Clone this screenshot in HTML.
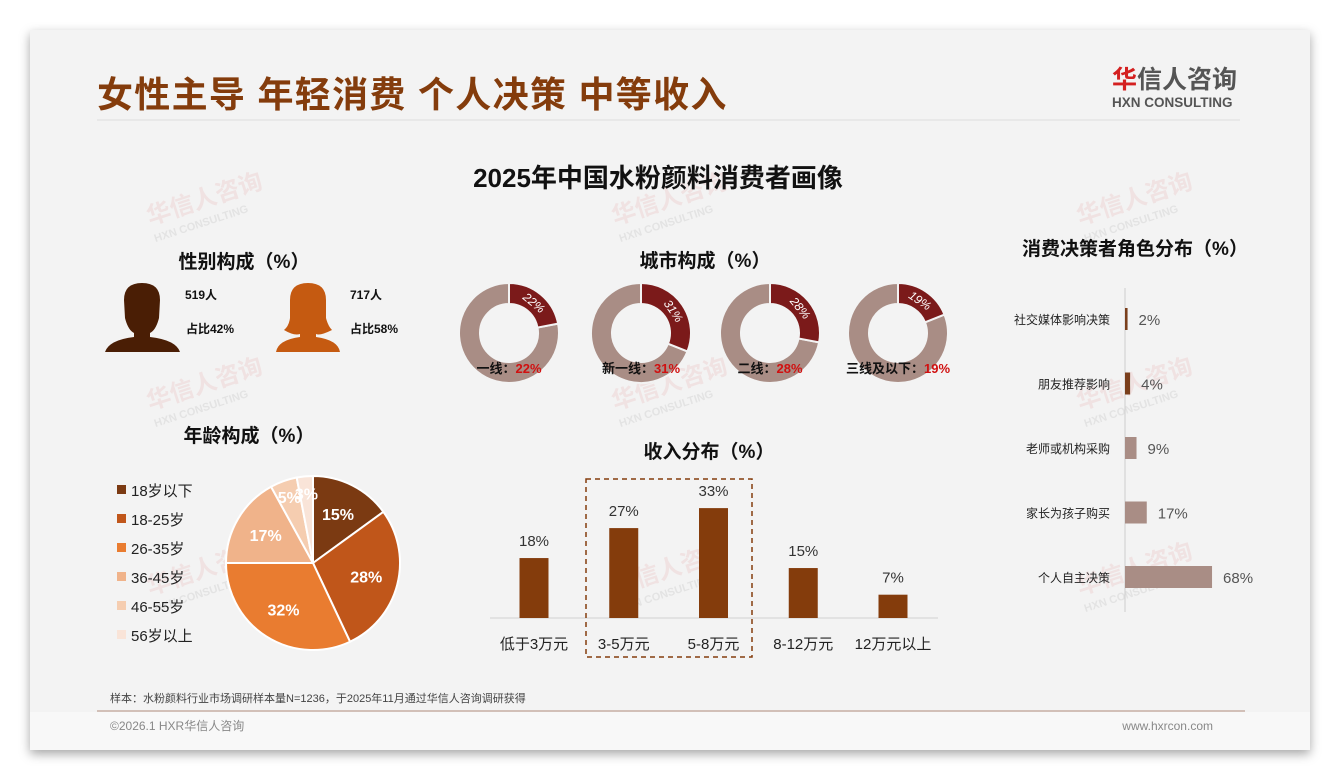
<!DOCTYPE html>
<html><head><meta charset="utf-8">
<style>
*{margin:0;padding:0;box-sizing:border-box}
body{width:1340px;height:780px;background:#fff;font-family:"Liberation Sans","Noto Sans CJK SC",sans-serif;position:relative;overflow:hidden}
#card{position:absolute;left:30px;top:30px;width:1280px;height:720px;background:#f3f3f3;box-shadow:0 4px 10px rgba(0,0,0,.35)}
.abs{position:absolute}
</style></head><body>
<div id="card"></div>
<svg class="abs" style="left:0;top:0" width="1340" height="780" font-family="Liberation Sans, Noto Sans CJK SC, sans-serif">
<rect x="30" y="712" width="1280" height="38" fill="#f8f8f8"/>
<g fill="#e8b8b8" opacity="0.28" font-weight="bold">
<g transform="translate(150,225) rotate(-18)"><text font-size="24">华信人咨询</text><text y="18" font-size="11" fill="#bbb">HXN CONSULTING</text></g>
<g transform="translate(615,225) rotate(-18)"><text font-size="24">华信人咨询</text><text y="18" font-size="11" fill="#bbb">HXN CONSULTING</text></g>
<g transform="translate(1080,225) rotate(-18)"><text font-size="24">华信人咨询</text><text y="18" font-size="11" fill="#bbb">HXN CONSULTING</text></g>
<g transform="translate(150,410) rotate(-18)"><text font-size="24">华信人咨询</text><text y="18" font-size="11" fill="#bbb">HXN CONSULTING</text></g>
<g transform="translate(615,410) rotate(-18)"><text font-size="24">华信人咨询</text><text y="18" font-size="11" fill="#bbb">HXN CONSULTING</text></g>
<g transform="translate(1080,410) rotate(-18)"><text font-size="24">华信人咨询</text><text y="18" font-size="11" fill="#bbb">HXN CONSULTING</text></g>
<g transform="translate(150,595) rotate(-18)"><text font-size="24">华信人咨询</text><text y="18" font-size="11" fill="#bbb">HXN CONSULTING</text></g>
<g transform="translate(615,595) rotate(-18)"><text font-size="24">华信人咨询</text><text y="18" font-size="11" fill="#bbb">HXN CONSULTING</text></g>
<g transform="translate(1080,595) rotate(-18)"><text font-size="24">华信人咨询</text><text y="18" font-size="11" fill="#bbb">HXN CONSULTING</text></g>
</g>
<text x="97" y="107" font-size="36" font-weight="bold" fill="#843c0c" letter-spacing="1.3">女性主导 年轻消费 个人决策 中等收入</text>
<g>
<text x="1112" y="88" font-size="25" font-weight="bold" fill="#555"><tspan fill="#d42020">华</tspan>信人咨询</text>
<text x="1112" y="107" font-size="13.5" font-weight="bold" fill="#555">HXN CONSULTING</text>
</g>
<line x1="97" y1="120" x2="1240" y2="120" stroke="#ddd" stroke-width="1"/>
<text x="658" y="187" font-size="26" font-weight="bold" text-anchor="middle" fill="#111">2025年中国水粉颜料消费者画像</text>
<text x="244" y="268" font-size="19" font-weight="bold" text-anchor="middle" fill="#111">性别构成（%）</text>
<g fill="#4a1e05">
<path d="M124,300 Q124,283 142,283 Q160,283 160,300 L159,318 Q156,330 150,333 L150,337 Q176,340 180,352 L105,352 Q109,340 134,337 L134,333 Q128,330 125,318 Z"/>
</g>
<text x="185" y="299" font-size="12" font-weight="bold" fill="#111">519人</text>
<text x="186" y="333" font-size="12" font-weight="bold" fill="#111">占比42%</text>
<g fill="#c55a11">
<path d="M290,300 Q290,283 308,283 Q326,283 326,300 L326,318 Q328,326 332,330 Q320,336 316,334 L316,337 Q338,340 340,352 L276,352 Q278,340 300,337 L300,334 Q294,336 284,330 Q289,326 290,318 Z"/>
</g>
<text x="350" y="299" font-size="12" font-weight="bold" fill="#111">717人</text>
<text x="350" y="333" font-size="12" font-weight="bold" fill="#111">占比58%</text>
<text x="705" y="267" font-size="19" font-weight="bold" text-anchor="middle" fill="#111">城市构成（%）</text>
<g id="donuts"></g>
<text x="249" y="442" font-size="19" font-weight="bold" text-anchor="middle" fill="#111">年龄构成（%）</text>
<g id="pie"></g><g id="legend"></g>
<text x="709" y="458" font-size="19" font-weight="bold" text-anchor="middle" fill="#111">收入分布（%）</text>
<g id="income"></g>
<rect x="586" y="479" width="166" height="178" fill="none" stroke="#843c0c" stroke-width="1.5" stroke-dasharray="5,4"/>
<text x="1135" y="255" font-size="19" font-weight="bold" text-anchor="middle" fill="#111">消费决策者角色分布（%）</text>
<g id="decision"></g>
<text x="110" y="702" font-size="11" fill="#444">样本：水粉颜料行业市场调研样本量N=1236，于2025年11月通过华信人咨询调研获得</text>
<line x1="97" y1="711" x2="1245" y2="711" stroke="#c8b0a5" stroke-width="1.5"/>
<text x="110" y="730" font-size="12" fill="#888">©2026.1 HXR华信人咨询</text>
<text x="1213" y="730" font-size="12" fill="#888" text-anchor="end">www.hxrcon.com</text>
</svg>
<script>
const NS="http://www.w3.org/2000/svg";
function mk(p,t,a){const e=document.createElementNS(NS,t);for(const k in a)e.setAttribute(k,a[k]);p.appendChild(e);return e;}
const cityNames=["一线","新一线","二线","三线及以下"];
const cityValues=[22,31,28,19];
const dg=document.getElementById('donuts');
const dcx=[509,641,770,898];
function arc(cx,cy,r,ri,a0,a1){const p=(r,a)=>[cx+r*Math.sin(a),cy-r*Math.cos(a)];const l=(a1-a0)>Math.PI?1:0;const[x0,y0]=p(r,a0),[x1,y1]=p(r,a1),[x2,y2]=p(ri,a1),[x3,y3]=p(ri,a0);
return ri>0?`M${x0},${y0}A${r},${r} 0 ${l} 1 ${x1},${y1}L${x2},${y2}A${ri},${ri} 0 ${l} 0 ${x3},${y3}Z`:`M${cx},${cy}L${x0},${y0}A${r},${r} 0 ${l} 1 ${x1},${y1}Z`;}
cityValues.forEach((v,i)=>{const cx=dcx[i],cy=333,a=v/100*2*Math.PI;
const g=mk(dg,'g',{});


mk(g,'path',{d:arc(cx,cy,50,29,a,2*Math.PI),fill:'#a98d85',stroke:'#f3f3f3','stroke-width':2});
mk(g,'path',{d:arc(cx,cy,50,29,0,a),fill:'#7b1a1a',stroke:'#f3f3f3','stroke-width':2});
const m=a/2,tx=cx+39*Math.sin(m),ty=cy-39*Math.cos(m);
const t=mk(g,'text',{x:tx,y:ty+4,'font-size':12,fill:'#fff','text-anchor':'middle','font-style':'italic',transform:`rotate(${m*180/Math.PI},${tx},${ty})`});t.textContent=v+'%';
const lb=mk(g,'text',{x:cx,y:373,'font-size':13,'font-weight':'bold','text-anchor':'middle',fill:'#111'});
lb.innerHTML=cityNames[i]+'：<tspan fill="#d01010">'+v+'%</tspan>';});
const ageLabels=["18岁以下","18-25岁","26-35岁","36-45岁","46-55岁","56岁以上"];
const ageValues=[15,28,32,17,5,3];
const ageColors=["#7b3a12","#c0561a","#e97c30","#f0b38a","#f5cdb0","#f9e4d8"];
const pg=document.getElementById('pie'),lg=document.getElementById('legend');
const tot=ageValues.reduce((a,b)=>a+b,0);let acc=0;
ageValues.forEach((v,i)=>{const a0=acc/tot*2*Math.PI;acc+=v;const a1=acc/tot*2*Math.PI;
const s=mk(pg,'path',{d:arc(313,563,87,0,a0,a1),fill:ageColors[i],stroke:'#fff','stroke-width':2});


const m=(a0+a1)/2,rr=v<8?70:55;
const t=mk(pg,'text',{x:313+rr*Math.sin(m),y:563-rr*Math.cos(m)+6,'font-size':16,'font-weight':'bold',fill:'#fff','text-anchor':'middle'});t.textContent=v+'%';
const y=490+i*29;
const li=mk(lg,'g',{});


mk(li,'rect',{x:117,y:y-5,width:9,height:9,fill:ageColors[i]});
const lt=mk(li,'text',{x:131,y:y+6,'font-size':15,fill:'#222'});lt.textContent=ageLabels[i];});
const incomeLabels=["低于3万元","3-5万元","5-8万元","8-12万元","12万元以上"];
const incomeValues=[18,27,33,15,7];
const ig=document.getElementById('income');
const ix=i=>534+i*89.75, iy=v=>618-v*3.33;
mk(ig,'line',{x1:490,y1:618,x2:938,y2:618,stroke:'#d0d0d0'});
incomeValues.forEach((v,i)=>{const b=mk(ig,'rect',{x:ix(i)-14.5,y:iy(v),width:29,height:618-iy(v),fill:'#843c0c'});


const t=mk(ig,'text',{x:ix(i),y:iy(v)-12,'font-size':15,fill:'#333','text-anchor':'middle'});t.textContent=v+'%';
const l=mk(ig,'text',{x:ix(i),y:649,'font-size':15,fill:'#222','text-anchor':'middle'});l.textContent=incomeLabels[i];});
const decLabels=["社交媒体影响决策","朋友推荐影响","老师或机构采购","家长为孩子购买","个人自主决策"];
const decValues=[2,4,9,17,68];
const decg=document.getElementById('decision');
const dx=v=>v*1.28, dy=i=>319+i*64.5;
mk(decg,'line',{x1:1125,y1:288,x2:1125,y2:612,stroke:'#ccc'});
decValues.forEach((v,i)=>{const r=mk(decg,'rect',{x:1125,y:dy(i)-11,width:Math.max(dx(v),2),height:22,fill:i<2?'#7a3f1c':'#a98d85'});


const t=mk(decg,'text',{x:1125+Math.max(dx(v),2)+11,y:dy(i)+6,'font-size':15,fill:'#555'});t.textContent=v+'%';
const l=mk(decg,'text',{x:1110,y:dy(i)+5,'font-size':12,fill:'#222','text-anchor':'end'});l.textContent=decLabels[i];});
</script>
</body></html>
